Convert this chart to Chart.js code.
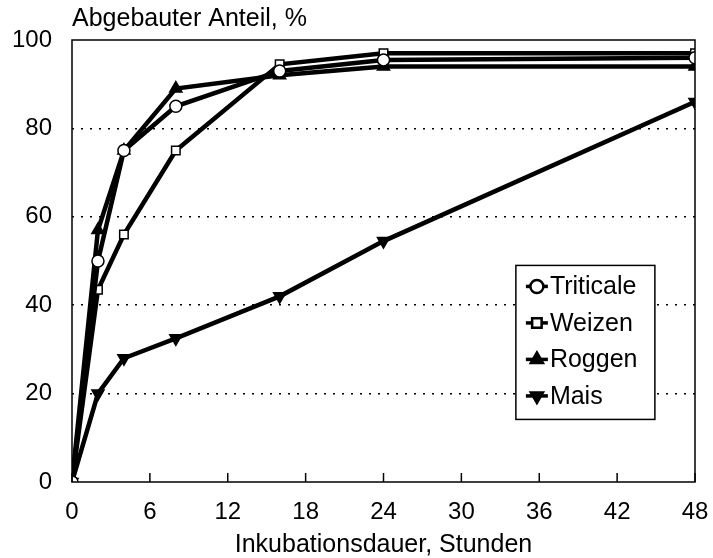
<!DOCTYPE html>
<html>
<head>
<meta charset="utf-8">
<script src="https://cdn.jsdelivr.net/npm/chart.js@4.4.1/dist/chart.umd.min.js"></script>
<style>
  html, body { margin: 0; padding: 0; background: #fff; }
  #wrap { width: 713px; height: 558px; }
</style>
</head>
<body>
<div id="wrap"><canvas id="chart"></canvas></div>
<script>
// Inkubationsdauer (Stunden)
const hours = [0, 2, 4, 8, 16, 24, 48];

// Abgebauter Anteil, %
const triticale = [0, 50, 75, 85, 93, 95.5, 96];
const weizen    = [0, 43.5, 56, 75, 94.5, 97, 97];
const roggen    = [0, 57, 75, 89, 92, 94, 94];
const mais      = [0, 20, 28, 32.5, 42, 54.5, 86];

const xTicks = [0, 6, 12, 18, 24, 30, 36, 42, 48];
const yTicks = [0, 20, 40, 60, 80, 100];

const FONT = "'Liberation Sans', Arial, sans-serif";

function pts(vals) {
    return hours.map((h, i) => ({ x: h, y: vals[i] }));
}

function series(label, vals, style, fill, rot) {
    return {
        label: label,
        data: pts(vals),
        borderColor: '#000',
        borderWidth: 4.5,
        pointStyle: style,
        pointRotation: rot || 0,
        pointRadius: style === 'triangle' ? 7 : 6,
        pointBorderWidth: 1.5,
        pointBorderColor: '#000',
        pointBackgroundColor: fill,
        tension: 0
    };
}

// frame, inner x ticks and legend box
const framePlugin = {
    id: 'frame',
    afterDatasetsDraw(chart) {
        const { ctx, chartArea: a, scales } = chart;
        ctx.save();
        ctx.strokeStyle = '#000';
        ctx.lineWidth = 1.5;
        ctx.strokeRect(a.left, a.top, a.right - a.left, a.bottom - a.top);
        // x ticks pointing inwards
        xTicks.forEach(v => {
            const x = scales.x.getPixelForValue(v);
            ctx.beginPath();
            ctx.moveTo(x, a.bottom);
            ctx.lineTo(x, a.bottom - 9);
            ctx.stroke();
        });
        // legend
        const lx = scales.x.getPixelForValue(34.2);
        const ly = scales.y.getPixelForValue(49);
        const w = 139, rowH = 36.5;
        const h = rowH * chart.data.datasets.length + 8;
        ctx.fillStyle = '#fff';
        ctx.fillRect(lx, ly, w, h);
        ctx.lineWidth = 1.5;
        ctx.strokeRect(lx, ly, w, h);
        ctx.font = '25px ' + FONT;
        ctx.textBaseline = 'middle';
        chart.data.datasets.forEach((ds, i) => {
            const cy = ly + 21 + i * rowH;
            const cx = lx + 21;
            ctx.strokeStyle = '#000';
            ctx.lineWidth = 3.5;
            ctx.beginPath();
            ctx.moveTo(cx - 11, cy);
            ctx.lineTo(cx + 11, cy);
            ctx.stroke();
            Chart.helpers.drawPoint(ctx, {
                pointStyle: ds.pointStyle,
                rotation: ds.pointRotation,
                radius: 6,
                borderWidth: 1.5
            }, cx, cy);
            ctx.fillStyle = ds.pointBackgroundColor;
            ctx.strokeStyle = '#000';
            ctx.lineWidth = 1.5;
            ctx.fill();
            ctx.stroke();
            ctx.fillStyle = '#000';
            ctx.fillText(ds.label, cx + 13, cy + 1);
        });
        ctx.restore();
    }
};

new Chart(document.getElementById('chart'), {
    type: 'line',
    data: {
        datasets: [
            series('Triticale', triticale, 'circle', '#fff'),
            series('Weizen', weizen, 'rect', '#fff'),
            series('Roggen', roggen, 'triangle', '#000'),
            series('Mais', mais, 'triangle', '#000', 180)
        ]
    },
    options: {
        responsive: true,
        maintainAspectRatio: false,
        animation: false,
        layout: { padding: { top: 4, right: 18, left: 0, bottom: 0 } },
        plugins: {
            legend: { display: false },
            tooltip: { enabled: false },
            title: {
                display: true,
                text: 'Abgebauter Anteil, %',
                align: 'start',
                fullSize: false,
                color: '#000',
                font: { family: FONT, size: 25, weight: 'normal', lineHeight: 1.2 },
                padding: { top: 0, bottom: 6 }
            }
        },
        scales: {
            x: {
                type: 'linear',
                min: 0,
                max: 48,
                afterBuildTicks(scale) {
                    scale.ticks = xTicks.map(v => ({ value: v }));
                },
                afterFit(scale) {
                    scale.height = 76;
                    scale.paddingRight = 0;
                    scale.paddingLeft = 0;
                },
                grid: { display: false, drawTicks: false },
                border: { display: false },
                ticks: {
                    color: '#000',
                    padding: 18,
                    font: { family: FONT, size: 24, lineHeight: 1 }
                },
                title: {
                    display: true,
                    text: 'Inkubationsdauer, Stunden',
                    color: '#000',
                    font: { family: FONT, size: 25, lineHeight: 1 },
                    padding: { top: 10, bottom: 0 }
                }
            },
            y: {
                min: 0,
                max: 100,
                afterBuildTicks(scale) {
                    scale.ticks = yTicks.map(v => ({ value: v }));
                },
                afterFit(scale) { scale.width = 72; },
                grid: {
                    drawTicks: false,
                    color: ctx => (ctx.tick && (ctx.tick.value === 0 || ctx.tick.value === 100)) ? 'rgba(0,0,0,0)' : '#000',
                    lineWidth: 1.5
                },
                border: { display: false, dash: [2, 7] },
                ticks: {
                    color: '#000',
                    padding: 20,
                    font: { family: FONT, size: 24 }
                }
            }
        }
    },
    plugins: [framePlugin]
});
</script>
</body>
</html>
